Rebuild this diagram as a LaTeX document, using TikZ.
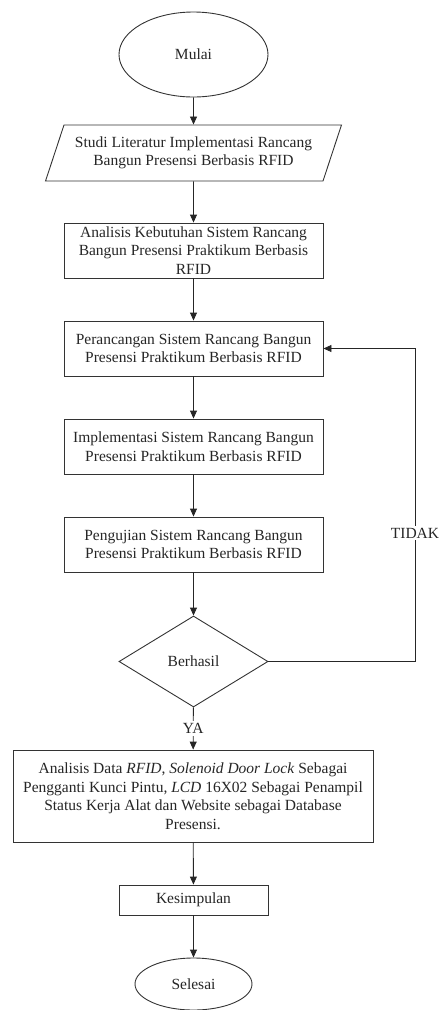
\documentclass[tikz,border=0pt]{standalone}
\usepackage{fontspec}
\setmainfont{Liberation Serif}
\usetikzlibrary{shapes.geometric,arrows.meta}
\begin{document}
\begin{tikzpicture}[x=1pt,y=-1pt,
  every node/.style={font=\fontsize{15.5}{18.5}\selectfont, text=black!85, align=center, inner sep=0pt},
  shp/.style={draw=black!80, line width=0.9pt},
  box/.style={shp, rectangle, minimum width=259pt, minimum height=55pt},
  term/.style={shp, ellipse},
  arr/.style={draw=black!85, line width=0.9pt, -{Triangle[length=8pt,width=7pt]}},
  lbl/.style={fill=white, inner sep=2pt}]
\useasboundingbox (0,0) rectangle (439,1010);
\node[term, minimum width=149pt, minimum height=85pt] (mulai) at (193.5,54.5) {Mulai};
\node[shp, trapezium, trapezium left angle=62.6, trapezium right angle=117.4,
  trapezium stretches=true, minimum width=297pt, minimum height=56pt] (studi) at (193.5,153)
  {Studi Literatur Implementasi Rancang\\Bangun Presensi Berbasis RFID};
\node[box] (analisis) at (193.5,250.5) {Analisis Kebutuhan Sistem Rancang\\Bangun Presensi Praktikum Berbasis\\RFID};
\node[box] (rancang) at (193.5,348.5) {Perancangan Sistem Rancang Bangun\\Presensi Praktikum Berbasis RFID};
\node[box] (impl) at (193.5,446.5) {Implementasi Sistem Rancang Bangun\\Presensi Praktikum Berbasis RFID};
\node[box] (uji) at (193.5,544.5) {Pengujian Sistem Rancang Bangun\\Presensi Praktikum Berbasis RFID};
\node[shp, diamond, minimum width=149pt, minimum height=91pt] (dec) at (193.5,661.5) {Berhasil};
\node[box, minimum width=360pt, minimum height=92pt] (data) at (193,796)
  {Analisis Data \textit{RFID}, \textit{Solenoid Door Lock} Sebagai\\Pengganti Kunci Pintu, \textit{LCD} 16X02 Sebagai Penampil\\Status Kerja Alat dan Website sebagai Database\\Presensi.};
\node[box, minimum width=149pt, minimum height=30pt] (simpul) at (193.5,900) {Kesimpulan};
\node[term, minimum width=117pt, minimum height=52pt] (selesai) at (193.5,984) {Selesai};
\coordinate (c1) at (415,661.5);
\coordinate (c2) at (415,348.5);
\draw[arr] (mulai) -- (studi);
\draw[arr] (studi) -- (analisis);
\draw[arr] (analisis) -- (rancang);
\draw[arr] (rancang) -- (impl);
\draw[arr] (impl) -- (uji);
\draw[arr] (uji) -- (dec);
\draw[arr] (dec.east) -- (c1) -- node[lbl, pos=0.41] {TIDAK} (c2) -- (rancang.east);
\draw[arr] (dec) -- node[lbl] {YA} (data);
\draw[arr] (data) -- (simpul);
\draw[arr] (simpul) -- (selesai);
\end{tikzpicture}
\end{document}
